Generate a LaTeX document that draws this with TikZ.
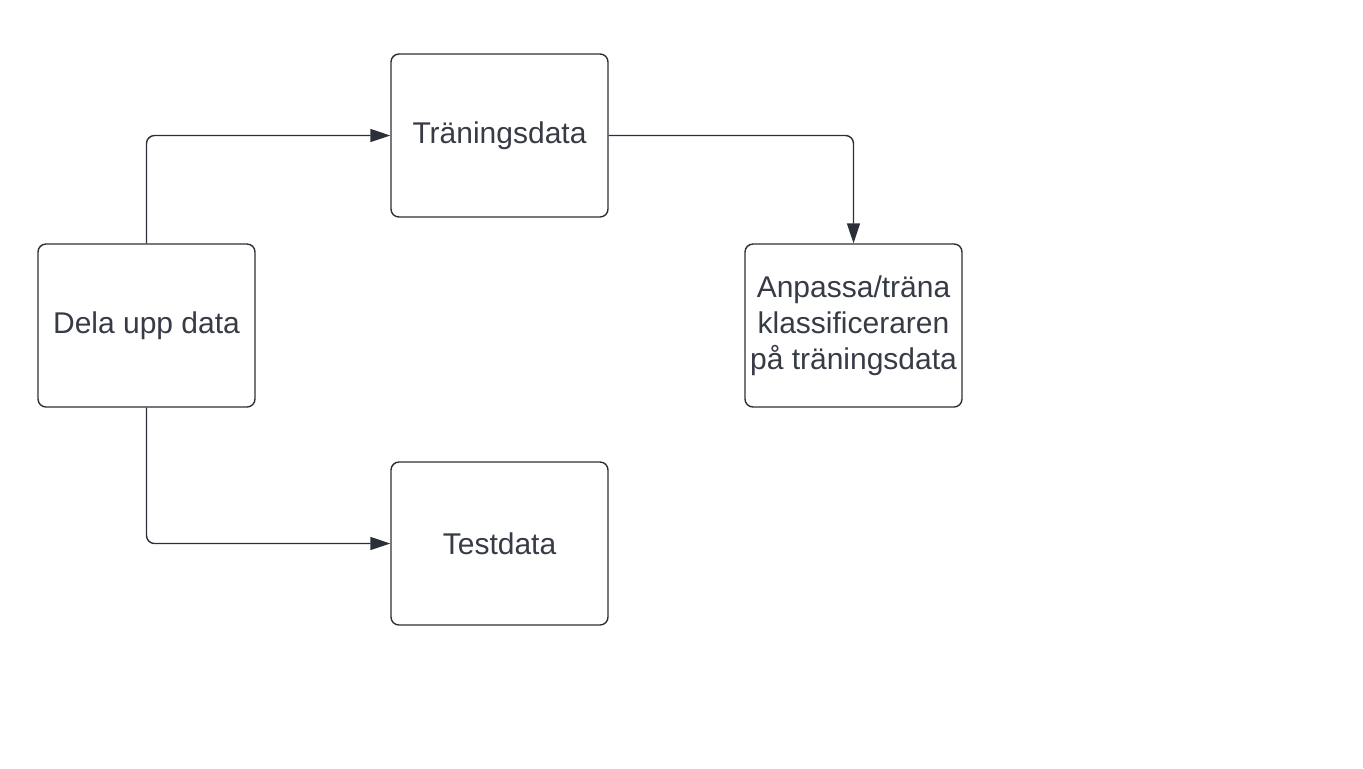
\documentclass[tikz,border=0pt]{standalone}
\usepackage{fontspec}
\setmainfont{Liberation Sans}
\usetikzlibrary{arrows.meta}
\definecolor{inkline}{HTML}{2B2F38}
\definecolor{inktext}{HTML}{363B45}
\begin{document}
\begin{tikzpicture}[x=0.5pt,y=-0.5pt]
    \tikzstyle{stepbox} = [draw=inkline,line width=.7pt,rounded corners=4pt,
                           minimum width=108.5pt,minimum height=81.5pt,
                           text=inktext,font=\fontsize{15}{18}\selectfont,
                           align=center,inner sep=1pt]
    \tikzstyle{link} = [draw=inkline,line width=.7pt,rounded corners=4pt,
                        -{Triangle[length=10pt,width=6.5pt]}]

    \useasboundingbox (0,0) rectangle (1364,768);
    \draw[black!18,line width=.5pt] (1363,0) -- (1363,768);

    \node[stepbox] (split) at (146.5,325.5) {Dela upp data};
    \node[stepbox] (train) at (499.5,135.5) {Träningsdata};
    \node[stepbox] (test) at (499.5,543.5) {Testdata};
    \node[stepbox] (fit) at (853.5,325.5) {Anpassa/träna\\klassificeraren\\på träningsdata};

    \draw[link] (split.north) |- (train.west);
    \draw[link] (split.south) |- (test.west);
    \draw[link] (train.east) -| (fit.north);
\end{tikzpicture}
\end{document}
